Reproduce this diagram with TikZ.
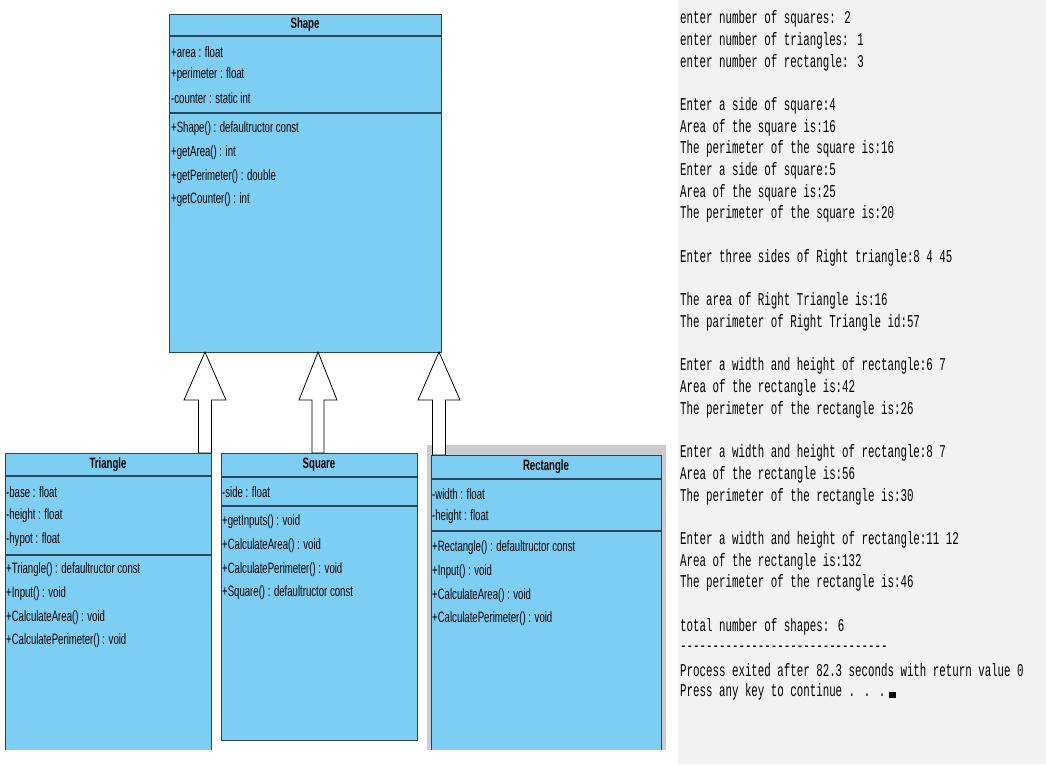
\documentclass[tikz,border=0pt]{standalone}
\usepackage{fontspec}
\setmainfont{Liberation Sans}
\newfontfamily\umlfont[FakeStretch=0.64]{Liberation Sans}
\newfontfamily\confont[FakeStretch=0.6]{Liberation Mono}
\definecolor{umlblue}{HTML}{7DCEF3}
\definecolor{umledge}{HTML}{2B4556}
\definecolor{conbg}{HTML}{F2F2F2}
\begin{document}
\begin{tikzpicture}[x=1pt,y=-1pt,
  box/.style={draw=umledge,line width=1.2pt,fill=umlblue,anchor=north west,inner sep=0pt},
  sep/.style={draw=umledge,line width=1.2pt},
  mem/.style={anchor=west,inner sep=0pt,font=\umlfont\fontsize{15}{17}\selectfont},
  ttl/.style={anchor=center,inner sep=0pt,font=\umlfont\bfseries\fontsize{15}{17}\selectfont},
  con/.style={anchor=west,inner sep=0pt,font=\confont\fontsize{18}{20}\selectfont},
  harrow/.style={draw=black,line width=0.8pt,fill=white}]
\useasboundingbox (0,0) rectangle (1046,764);
\fill[white] (0,0) rectangle (1046,764);
% console
\fill[conbg] (678,0) rectangle (1046,764);
\foreach \i/\t in {0/{enter number of squares: 2},1/{enter number of triangles: 1},2/{enter number of rectangle: 3},
 4/{Enter a side of square:4},5/{Area of the square is:16},6/{The perimeter of the square is:16},
 7/{Enter a side of square:5},8/{Area of the square is:25},9/{The perimeter of the square is:20},
 11/{Enter three sides of Right triangle:8 4 45},13/{The area of Right Triangle is:16},14/{The parimeter of Right Triangle id:57},
 16/{Enter a width and height of rectangle:6 7},17/{Area of the rectangle is:42},18/{The perimeter of the rectangle is:26},
 20/{Enter a width and height of rectangle:8 7},21/{Area of the rectangle is:56},22/{The perimeter of the rectangle is:30},
 24/{Enter a width and height of rectangle:11 12},25/{Area of the rectangle is:132},26/{The perimeter of the rectangle is:46},
 28/{total number of shapes: 6},29/{--------------------------------},30/{Process exited after 82.3 seconds with return value 0},
 31/{Press any key to continue . . .}}
 \node[con] (c\i) at (680,19+21.7*\i) {\t};
\fill[black] ([xshift=3pt,yshift=-6pt]c31.east) rectangle ++(7,-6);
% Shape
\node[box,minimum width=272pt,minimum height=338pt] (shape) at (169,14) {};
\node[ttl] (shapet) at (305,25) {Shape};
\draw[sep] (169,36) -- (441,36) (169,113) -- (441,113);
\foreach \y/\t [count=\k] in {52/{+area : float},75/{+perimeter : float},98/{-counter : static int},129/{+Shape() : defaultructor const},153/{+getArea() : int},177/{+getPerimeter() : double},200/{+getCounter() : int}}
 \node[mem] (sm\k) at (171,\y) {\t};
% Triangle
\node[box,minimum width=206pt,minimum height=340pt] (tri) at (5,453) {};
\node[ttl] (trit) at (108,465) {Triangle};
\draw[sep] (5,476) -- (211,476) (5,555) -- (211,555);
\foreach \y/\t [count=\k] in {492/{-base : float},516/{-height : float},540/{-hypot : float},570/{+Triangle() : defaultructor const},594/{+Input() : void},618/{+CalculateArea() : void},641/{+CalculatePerimeter() : void}}
 \node[mem] (tm\k) at (6,\y) {\t};
% Square
\node[box,minimum width=196pt,minimum height=287pt] (sq) at (221,453) {};
\node[ttl] (sqt) at (319,465) {Square};
\draw[sep] (221,477) -- (417,477) (221,506) -- (417,506);
\foreach \y/\t [count=\k] in {492/{-side : float},522/{+getInputs() : void},546/{+CalculateArea() : void},570/{+CalculatePerimeter() : void},593/{+Square() : defaultructor const}}
 \node[mem] (qm\k) at (222,\y) {\t};
% Rectangle
\fill[gray!40] (427,445) rectangle (666,764);
\node[box,minimum width=230pt,minimum height=340pt] (rect) at (431,455) {};
\node[ttl] (rectt) at (546,467) {Rectangle};
\draw[sep] (431,479) -- (661,479) (431,531) -- (661,531);
\foreach \y/\t [count=\k] in {494/{-width : float},517/{-height : float},548/{+Rectangle() : defaultructor const},572/{+Input() : void},596/{+CalculateArea() : void},619/{+CalculatePerimeter() : void}}
 \node[mem] (rm\k) at (432,\y) {\t};
\fill[white] (-5,750) rectangle (678,820);
% inheritance block arrows
\foreach \tx/\hw/\sw/\by [count=\k] in {205/21/6.5/453,318/19/6/453,439/21/6.5/455}{
 \draw[harrow] (\tx,352) -- (\tx+\hw,400) -- (\tx+\sw,400) -- (\tx+\sw,\by) -- (\tx-\sw,\by) -- (\tx-\sw,400) -- (\tx-\hw,400) -- cycle;
}
\end{tikzpicture}
\end{document}
